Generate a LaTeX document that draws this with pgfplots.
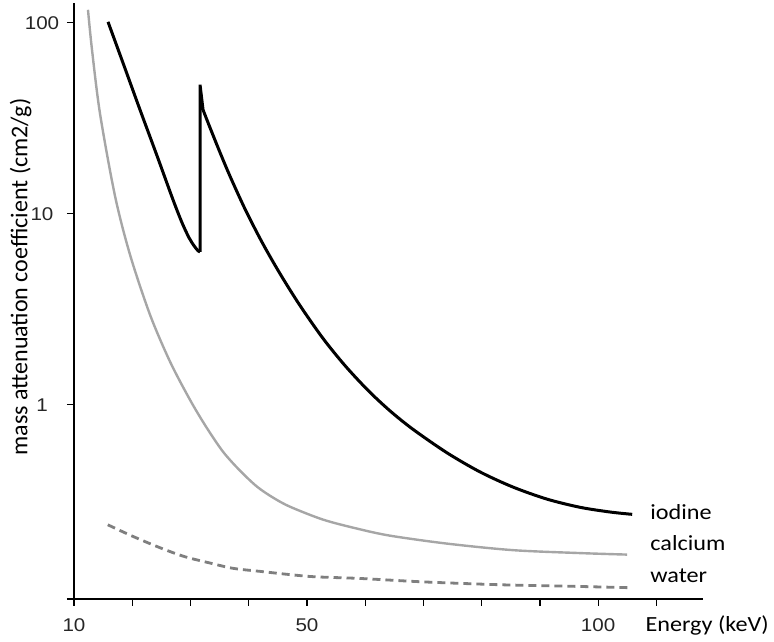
\documentclass[border=0pt]{standalone}
\usepackage{fontspec}
\setmainfont{Carlito}
\newfontfamily\ticksfont[FakeStretch=1.12]{Liberation Sans}
\newfontfamily\labfont[FakeStretch=1.12]{Carlito}
\usepackage{pgfplots}
\pgfplotsset{compat=1.18}

\definecolor{calgray}{HTML}{A6A6A6}
\definecolor{watgray}{HTML}{7F7F7F}

\begin{document}
\begin{tikzpicture}
\begin{axis}[
    scale only axis,
    width=314.5pt, height=298pt,
    xmin=10, xmax=118,
    ymode=log, ymin=0.096, ymax=127,
    axis x line=bottom, axis y line=left,
    axis line style={-, line width=0.75pt},
    every outer x axis line/.append style={shorten <=-3.5pt},
    tick align=outside,
    major tick length=3.5pt,
    minor tick length=0pt,
    tick style={black, line width=0.65pt},
    xtick={10,20,...,110},
    xticklabels={10,,,,50,,,,,100,},
    ytick={1,10,100},
    yticklabels={1,10,100},
    /pgf/number format/assume math mode=true,
    ticklabel style={font=\ticksfont\fontsize{9.2}{10}\selectfont, text=black!85},
    yticklabel style={anchor=center, xshift=-12.5pt},
    xticklabel style={yshift=-2.8pt},
    xlabel={Energy (keV)},
    xlabel style={at={(axis description cs:0.908,0)}, anchor=base west,
        yshift=-16pt, inner sep=0pt, font=\labfont\fontsize{10.8}{12}\selectfont},
    ylabel={mass attenuation coefficient (cm2/g)},
    ylabel style={at={(axis description cs:0,0.54)}, anchor=south, yshift=21pt,
        inner sep=0pt, font=\fontsize{12}{13}\selectfont},
    clip=false,
]
% iodine, below K-edge
\addplot[black, line width=1.5pt, smooth] coordinates {
    (15.84,101.2) (18.59,59.6) (21.34,35.0) (24.26,20.1) (27.00,11.84)
    (28.55,8.97) (29.75,7.49) (30.61,6.80) (31.30,6.40) (31.64,6.32)
};
% K-edge jump
\addplot[black, line width=1.5pt] coordinates {(31.64,6.32) (31.64,47.4) (32.16,35.0)};
% iodine, above K-edge
\addplot[black, line width=1.5pt, smooth] coordinates {
    (32.16,35.0) (33.36,28.2) (35.08,20.9) (36.80,15.7) (39.37,10.58)
    (42.29,7.09) (45.38,4.85) (48.82,3.30) (52.77,2.22) (56.55,1.60)
    (60.50,1.187) (64.28,0.927) (68.23,0.742) (74.07,0.559) (79.74,0.444)
    (85.40,0.370) (91.24,0.320) (96.91,0.290) (102.06,0.274) (105.84,0.2665)
};
% calcium
\addplot[calgray, line width=1.2pt, smooth] coordinates {
    (12.40,117) (13.09,72.3) (14.47,33.4) (17.04,12.4) (19.62,6.10)
    (23.05,2.96) (26.49,1.68) (29.92,1.06) (32.67,0.767) (35.59,0.567)
    (38.51,0.451) (41.43,0.372) (44.18,0.326) (47.10,0.292) (52.77,0.250)
    (58.61,0.2243) (64.28,0.206) (74.07,0.1872) (85.40,0.173) (96.91,0.167)
    (104.98,0.164)
};
% water
\addplot[watgray, line width=1.4pt, dash pattern=on 4pt off 2.5pt, smooth] coordinates {
    (15.8,0.235) (20,0.205) (24.8,0.178) (29,0.16) (33.4,0.148) (37.3,0.139)
    (41.9,0.134) (50.5,0.126) (59.1,0.123) (70,0.118) (83.2,0.114)
    (95,0.112) (105.5,0.110)
};
\node[anchor=base west, inner sep=0pt, font=\labfont\fontsize{10.8}{12}\selectfont]
    at (axis cs:108.9,0.250) {iodine};
\node[anchor=base west, inner sep=0pt, font=\labfont\fontsize{10.8}{12}\selectfont]
    at (axis cs:108.9,0.172) {calcium};
\node[anchor=base west, inner sep=0pt, font=\labfont\fontsize{10.8}{12}\selectfont]
    at (axis cs:108.9,0.117) {water};
\end{axis}
\pgfresetboundingbox
\path (-37pt,-21pt) rectangle (350pt,299.5pt);
\end{tikzpicture}
\end{document}
